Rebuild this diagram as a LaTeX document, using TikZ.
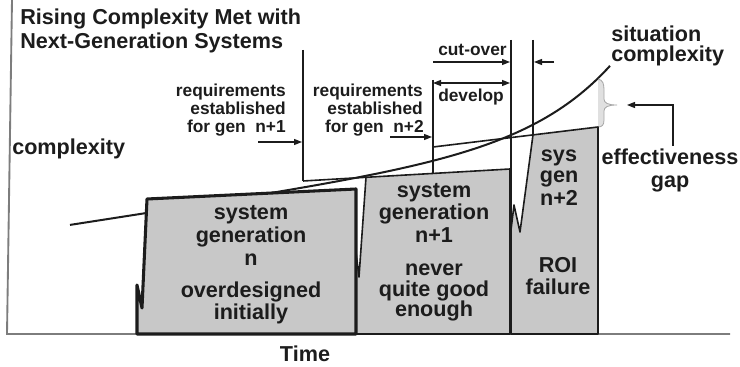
\documentclass[tikz,border=0pt]{standalone}
\usepackage{fontspec}
\setmainfont{Liberation Sans}
\usetikzlibrary{arrows.meta}
\definecolor{boxgray}{RGB}{200,200,200}
\definecolor{gapgray}{RGB}{224,224,224}
\definecolor{ink}{RGB}{28,28,28}
\definecolor{axisgray}{RGB}{125,125,125}
\begin{document}
\begin{tikzpicture}[x=0.75pt,y=-0.75pt,
  big/.style={font=\bfseries\fontsize{16.2}{17}\selectfont,inner sep=0pt,text=ink},
  small/.style={font=\bfseries\fontsize{13}{14}\selectfont,inner sep=0pt,text=ink},
  axisline/.style={draw=axisgray,line width=1.4pt},
  vline/.style={draw=ink,line width=0.9pt},
  reqline/.style={draw=ink,line width=1.2pt},
  arr/.style={draw=ink,line width=1pt,-{Triangle[length=6pt,width=4.5pt]}},
  darr/.style={draw=ink,line width=1pt,{Triangle[length=6pt,width=4.5pt]}-{Triangle[length=6pt,width=4.5pt]}},
  genbox/.style={draw=ink,fill=boxgray,line width=1.2pt,line join=round},
  thickbox/.style={draw=ink,fill=boxgray,line width=2.3pt,line join=round}]
\useasboundingbox (0,0) rectangle (740,367);

% axes
\coordinate (axtop) at (12,0);
\coordinate (origin) at (7,334);
\coordinate (axend) at (730,334);
\draw[axisline] (axtop) -- (origin) -- (axend);

% situation complexity curve
\draw[ink,line width=1.5pt] plot[domain=70:610,samples=150] ({\x},{334-(109+0.154*(\x-70)+76*exp((\x-610)/80))});

% vertical marker lines
\coordinate (v1t) at (303,50);  \coordinate (v1b) at (303,181);
\coordinate (v2t) at (433,80);  \coordinate (v2b) at (433,173.5);
\coordinate (v3t) at (511,40);  \coordinate (v3b) at (511,334);
\coordinate (v4t) at (533,40);  \coordinate (v4b) at (533,134.9);
\draw[vline] (v1t) -- (v1b);
\draw[vline] (v2t) -- (v2b);
\draw[vline] (v3t) -- (v3b);
\draw[vline] (v4t) -- (v4b);

% requirement levels
\coordinate (r1a) at (303,181);   \coordinate (r1b) at (366,177.3);
\coordinate (r2a) at (433,147);   \coordinate (r2b) at (533,134.9);
\draw[reqline] (r1a) -- (r1b);
\draw[reqline] (r2a) -- (r2b);

% effectiveness gap
\fill[gapgray] (598,79) .. controls (603,80) and (604,84) .. (604,90) -- (604,99)
  .. controls (604,103) and (608,105) .. (617,105)
  .. controls (608,105) and (604,107) .. (604,111) -- (604,120)
  .. controls (604,125) and (602,127) .. (598,127) -- cycle;
\draw[gray!70,line width=0.6pt] (598,79) .. controls (603,80) and (604,84) .. (604,90) -- (604,99)
  .. controls (604,103) and (608,105) .. (617,105)
  .. controls (608,105) and (604,107) .. (604,111) -- (604,120)
  .. controls (604,125) and (602,127) .. (598,127);

% boxes
\draw[genbox] (533,134.9) -- (598,127) -- (598,334) -- (511,334) -- (511,230) -- (514,205) -- (520,232) -- cycle;
\draw[genbox] (366,177.3) -- (510,169) -- (510,334) -- (356,334) -- (356,252) -- (359,277) -- cycle;
\draw[thickbox] (147,199) -- (356,189) -- (356,334) -- (137,334) -- (137,285) -- (142,308) -- cycle;

% arrows
\coordinate (a1s) at (258,142); \coordinate (a1e) at (302,142);
\coordinate (a2s) at (390,137); \coordinate (a2e) at (432,137);
\coordinate (cos) at (433,62);  \coordinate (coe) at (510,62);
\coordinate (ds) at (433,83);   \coordinate (de) at (510,83);
\coordinate (rs) at (554,62);   \coordinate (re) at (534,62);
\coordinate (es) at (673,146);  \coordinate (ec) at (673,105); \coordinate (ee) at (627,105);
\draw[arr] (a1s) -- (a1e);
\draw[arr] (a2s) -- (a2e);
\draw[arr] (cos) -- (coe);
\draw[darr] (ds) -- (de);
\draw[arr] (rs) -- (re);
\draw[arr] (es) -- (ec) -- (ee);

% texts
\node[big,anchor=base west] (t1) at (20,25) {Rising Complexity Met with};
\node[big,anchor=base west] (t2) at (20,49) {Next-Generation Systems};
\node[big,anchor=base west] (cx) at (12,155) {complexity};
\node[big,anchor=base] (time) at (305,362) {Time};

\node[small,anchor=base east] (q1a) at (286,97) {requirements};
\node[small,anchor=base east] (q1b) at (286,115) {established};
\node[small,anchor=base east] (q1c) at (286,133) {for gen\ \ n+1};
\node[small,anchor=base east] (q2a) at (423,97) {requirements};
\node[small,anchor=base east] (q2b) at (423,115) {established};
\node[small,anchor=base east] (q2c) at (424,133) {for gen\ \ n+2};
\node[small,anchor=base west] (cut) at (438,56) {cut-over};
\node[small,anchor=base west] (dev) at (438,102) {develop};

\node[big,anchor=base west] (sit1) at (611,42) {situation};
\node[big,anchor=base west] (sit2) at (611,62) {complexity};
\node[big,anchor=base] (eff1) at (670,165) {effectiveness};
\node[big,anchor=base] (eff2) at (670,188) {gap};

% box n labels
\node[big,anchor=base] (n1) at (251,220) {system};
\node[big,anchor=base] (n2) at (251,243) {generation};
\node[big,anchor=base] (n3) at (251,266) {n};
\node[big,anchor=base] (n4) at (251,298) {overdesigned};
\node[big,anchor=base] (n5) at (251,320) {initially};
% box n+1 labels
\node[big,anchor=base] (m1) at (434,198) {system};
\node[big,anchor=base] (m2) at (434,220) {generation};
\node[big,anchor=base] (m3) at (434,243) {n+1};
\node[big,anchor=base] (m4) at (434,276) {never};
\node[big,anchor=base] (m5) at (434,297) {quite good};
\node[big,anchor=base] (m6) at (434,317) {enough};
% box n+2 labels
\node[big,anchor=base] (k1) at (559,162) {sys};
\node[big,anchor=base] (k2) at (559,183) {gen};
\node[big,anchor=base] (k3) at (559,206) {n+2};
\node[big,anchor=base] (k4) at (558,273) {ROI};
\node[big,anchor=base] (k5) at (558,295) {failure};
\end{tikzpicture}
\end{document}
